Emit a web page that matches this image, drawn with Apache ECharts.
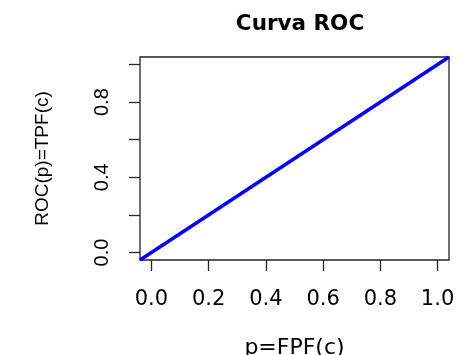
<!DOCTYPE html>
<html>
<head>
<meta charset="utf-8">
<script src="https://cdn.jsdelivr.net/npm/echarts@6/dist/echarts.min.js"></script>
<style>html,body{margin:0;padding:0;background:#fff;}#c{width:457px;height:355px;}</style>
</head>
<body>
<div id="c"></div>
<script>
// Data
const fpf = [-0.04, 1.04];          // p = FPF(c), line spans the full plot region
const tpf = [-0.04, 1.04];          // ROC(p) = TPF(c)
const xTicks = [0, 0.2, 0.4, 0.6, 0.8, 1.0];
const xTickLabels = ['0.0', '0.2', '0.4', '0.6', '0.8', '1.0'];
const yTicks = [0, 0.2, 0.4, 0.6, 0.8, 1.0];
const yLabelValues = [0, 0.4, 0.8];
const yTickLabels = ['0.0', '0.4', '0.8'];

const chart = echarts.init(document.getElementById('c'), null, {renderer: 'canvas'});
const fmtX = v => { const i = xTicks.findIndex(t => Math.abs(t - v) < 1e-9); return i >= 0 ? xTickLabels[i] : ''; };
const fmtY = v => { const i = yLabelValues.findIndex(t => Math.abs(t - v) < 1e-9); return i >= 0 ? yTickLabels[i] : ''; };

chart.setOption({
  animation: false,
  backgroundColor: '#ffffff',
  title: {
    text: 'Curva ROC',
    left: 295, top: 8, textAlign: 'center',
    textStyle: {fontFamily: 'DejaVu Sans', fontWeight: 'bold', fontSize: 21.5, color: '#000'}
  },
  grid: {left: 140, right: 8, top: 57, bottom: 95, outerBoundsMode: 'none', containLabel: false,
         show: true, borderColor: '#222', borderWidth: 1.3, backgroundColor: 'transparent'},
  xAxis: {
    type: 'value', min: -0.04, max: 1.04,
    name: 'p=FPF(c)', nameLocation: 'middle', nameGap: 77,
    nameTextStyle: {fontFamily: 'DejaVu Sans', fontSize: 22, color: '#000'},
    axisLine: {show: false, onZero: false},
    splitLine: {show: false},
    axisTick: {show: true, inside: false, length: 11, customValues: xTicks, lineStyle: {color: '#222', width: 1.3}},
    axisLabel: {customValues: xTicks, formatter: fmtX, margin: 29, fontFamily: 'DejaVu Sans', fontSize: 21, color: '#000'}
  },
  yAxis: {
    type: 'value', min: -0.04, max: 1.04,
    name: 'ROC(p)=TPF(c)', nameLocation: 'middle', nameGap: 88, nameRotate: 90,
    nameTextStyle: {fontFamily: 'Liberation Sans', fontSize: 19, color: '#000'},
    axisLine: {show: false, onZero: false},
    splitLine: {show: false},
    axisTick: {show: true, inside: false, length: 11, customValues: yTicks, lineStyle: {color: '#222', width: 1.3}},
    axisLabel: {customValues: yLabelValues, formatter: fmtY, rotate: 90, margin: 28, fontFamily: 'Liberation Sans', fontSize: 20, color: '#000'}
  },
  series: [{
    type: 'line',
    data: fpf.map((x, i) => [x, tpf[i]]),
    showSymbol: false,
    lineStyle: {color: '#0000ff', width: 3.5},
    clip: true
  }]
});
</script>
</body>
</html>
